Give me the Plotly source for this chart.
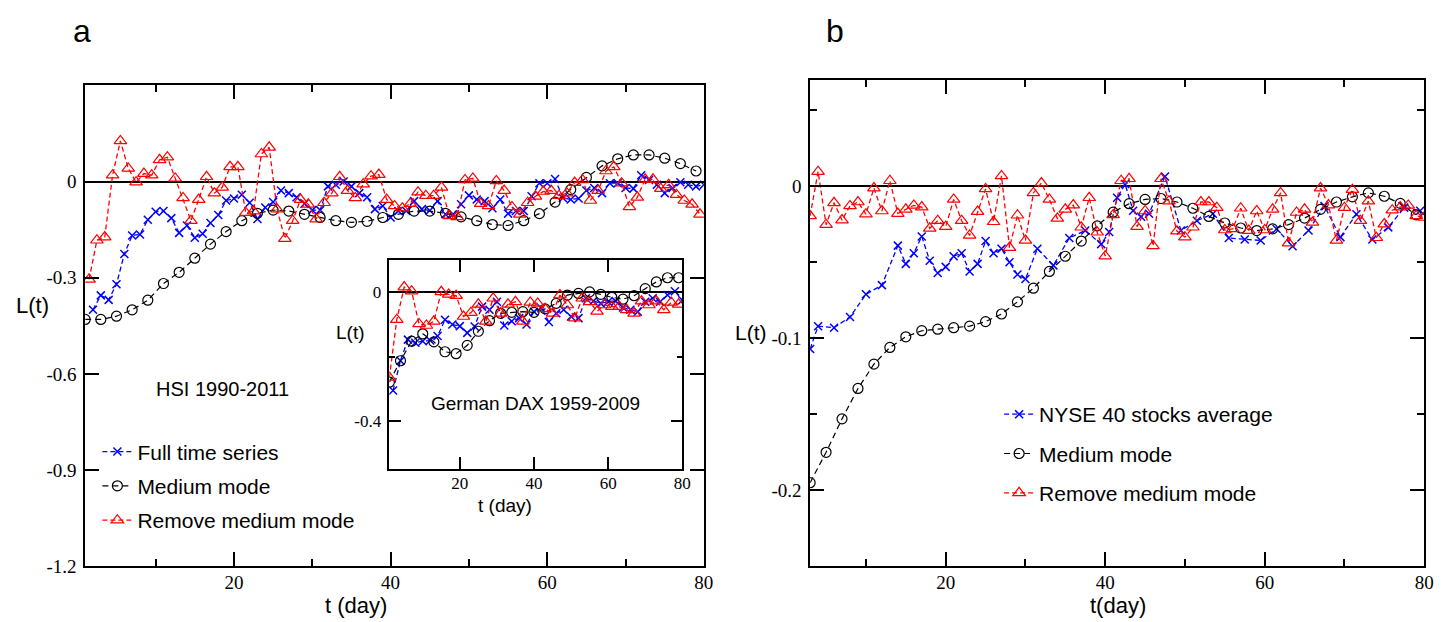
import plotly.graph_objects as go

W, H = 1450, 622

# ---------------- DATA ----------------
# Panel a: HSI 1990-2011
a_full_t = list(range(2, 81))
a_full_v = [-0.40, -0.355, -0.369, -0.32, -0.226, -0.168, -0.165, -0.119, -0.094,
            -0.092, -0.114, -0.16, -0.137, -0.175, -0.163, -0.129, -0.104, -0.059,
            -0.053, -0.041, -0.066, -0.117, -0.081, -0.064, -0.028, -0.036, -0.049,
            -0.069, -0.089, -0.089, -0.015, -0.01, 0.0, -0.015, -0.036, -0.049,
            -0.086, -0.076, -0.112, -0.092, -0.092, -0.061, -0.086, -0.09, -0.061,
            -0.102, -0.102, -0.071, -0.043, -0.056, -0.061, -0.083, -0.056, -0.1,
            -0.092, -0.092, -0.046, -0.005, -0.005, 0.008, -0.051, -0.056, -0.053,
            -0.028, -0.02, -0.036, -0.005, -0.005, -0.02, -0.022, 0.02, 0.005,
            -0.01, -0.036, -0.02, -0.002, -0.01, -0.015, -0.01]

a_med_t = list(range(1, 80, 2))
a_med_v = [-0.43, -0.43, -0.42, -0.40, -0.37, -0.318, -0.283, -0.239, -0.195, -0.156,
           -0.122, -0.099, -0.089, -0.092, -0.102, -0.112, -0.122, -0.127, -0.124, -0.112,
           -0.102, -0.092, -0.092, -0.099, -0.11, -0.122, -0.134, -0.137, -0.122, -0.1,
           -0.064, -0.025, 0.013, 0.049, 0.071, 0.083, 0.083, 0.073, 0.056, 0.033]

a_rem_t = [k + 0.5 for k in range(1, 80)]
a_rem_v = [-0.305, -0.183, -0.173, 0.02, 0.127, 0.041, -0.002, 0.025, 0.02, 0.068,
           0.076, 0.01, -0.051, -0.122, -0.056, 0.015, -0.036, -0.018, 0.046, 0.046,
           -0.097, -0.092, 0.086, 0.107, -0.086, -0.178, -0.122, -0.056, -0.071, -0.117,
           -0.066, -0.036, 0.015, -0.028, -0.051, -0.008, 0.017, 0.022, -0.056, -0.076,
           -0.083, -0.069, -0.033, -0.044, -0.044, -0.018, -0.107, -0.11, 0.005, 0.01,
           -0.069, -0.076, 0.002, -0.028, -0.079, -0.102, -0.066, -0.046, -0.031, -0.028,
           -0.044, -0.036, -0.003, 0.005, -0.059, -0.028, 0.033, 0.046, -0.005, -0.079,
           -0.049, 0.007, 0.007, -0.022, -0.01, -0.041, -0.059, -0.071, -0.102]

# Inset: German DAX 1959-2009
dax_full_t = list(range(2, 81, 2))
dax_full_v = [-0.306, -0.213, -0.147, -0.157, -0.152, -0.15, -0.136, -0.085, -0.1, -0.105,
              -0.126, -0.106, -0.044, -0.054, -0.029, -0.103, -0.09, -0.08, -0.1, -0.06,
              -0.049, -0.092, -0.065, -0.054, -0.075, -0.08, -0.018, -0.027, -0.034, -0.029,
              -0.027, -0.047, -0.054, -0.06, -0.029, -0.018, -0.029, -0.008, 0.004, -0.024]

dax_med_t = list(range(1, 80, 3))
dax_med_v = [-0.28, -0.213, -0.152, -0.129, -0.154, -0.185, -0.191, -0.165, -0.121, -0.088,
             -0.065, -0.062, -0.06, -0.062, -0.051, -0.034, -0.008, -0.003, 0.002, -0.006,
             -0.015, -0.021, -0.01, 0.012, 0.033, 0.046, 0.046]

dax_rem_t = list(range(1, 80, 2))
dax_rem_v = [-0.265, -0.085, 0.017, 0.004, -0.098, -0.103, -0.09, 0.002, -0.006, -0.01,
             -0.075, -0.063, -0.037, -0.09, -0.018, -0.065, -0.037, -0.029, -0.09, -0.031,
             -0.034, -0.051, -0.065, -0.008, -0.039, -0.08, -0.018, -0.029, -0.059, -0.039,
             -0.044, -0.044, -0.054, -0.065, -0.027, -0.039, -0.027, -0.054, -0.031, -0.037]

# Panel b: NYSE 40 stocks
b_full_t = [3, 4, 6, 8, 10, 12, 14, 15, 16, 17, 18, 19, 20, 21, 22, 23, 24, 25, 26, 27,
            28, 29, 30, 31.5, 33.5, 35.5, 37.5, 39.5, 40.5, 41.5, 42.5, 43.5, 44.5, 45.5,
            47.5, 49.5, 51.5, 53.5, 55.5, 57.5, 59.5, 61.5, 63.5, 65.5, 67.5, 69.5, 71.5,
            73.5, 75.5, 77.5, 79.5]
b_full_v = [-0.107, -0.092, -0.093, -0.086, -0.071, -0.065, -0.039, -0.051, -0.044, -0.033,
            -0.049, -0.057, -0.053, -0.046, -0.044, -0.056, -0.051, -0.036, -0.044, -0.041,
            -0.05, -0.058, -0.061, -0.041, -0.052, -0.034, -0.029, -0.038, -0.03, -0.0075,
            0.0015, -0.016, -0.02, -0.018, 0.0065, -0.029, -0.0226, -0.018, -0.034, -0.035,
            -0.0356, -0.028, -0.0394, -0.029, -0.013, -0.0334, -0.0183, -0.035, -0.027,
            -0.014, -0.016]

b_med_t = list(range(3, 80, 2))
b_med_v = [-0.195, -0.175, -0.153, -0.133, -0.117, -0.106, -0.099, -0.095, -0.094, -0.093,
           -0.092, -0.089, -0.084, -0.076, -0.067, -0.056, -0.046, -0.036, -0.026, -0.017,
           -0.0114, -0.0086, -0.008, -0.0103, -0.0144, -0.0198, -0.0241, -0.0274, -0.0291,
           -0.028, -0.0252, -0.0209, -0.0151, -0.0103, -0.0069, -0.0043, -0.0065, -0.0112,
           -0.0187]

b_rem_t = list(range(3, 81))
b_rem_v = [-0.0194, 0.0097, -0.0252, -0.0108, -0.0222, -0.0129, -0.0103, -0.0183, -0.0011,
           -0.0162, 0.0037, -0.0179, -0.0151, -0.0125, -0.0136, -0.0276, -0.0226, -0.0265,
           -0.0086, -0.0226, -0.0323, -0.0166, -0.0017, -0.0233, 0.0069, -0.0403, -0.019,
           -0.0356, -0.0043, 0.0022, -0.0086, -0.0211, -0.0151, -0.0123, -0.0269, -0.0075,
           -0.0302, -0.0459, -0.0188, 0.0037,
           0.005, -0.0265, -0.0162, -0.0392, 0.005, -0.0097, -0.0295, -0.0334, -0.0269,
           -0.0103, -0.0103, -0.014, -0.0287, -0.028, -0.0144, -0.0291, -0.0162, -0.0287,
           -0.0151, -0.0043, -0.0373, -0.0172, -0.0151, -0.0237, -0.0011, -0.0123, -0.0356,
           -0.014, -0.0022, -0.0226, -0.0097, -0.0338, -0.0248, -0.0157, -0.0136, -0.0125,
           -0.0194, -0.0205]

# tick labels
x_tick_vals = [20, 40, 60, 80]
x_tick_text = ["20", "40", "60", "80"]
x_minor_vals = [10, 30, 50, 70]
a_ytick_vals = [0, -0.3, -0.6, -0.9, -1.2]
a_ytick_text = ["0", "-0.3", "-0.6", "-0.9", "-1.2"]
dax_ytick_vals = [0, -0.4]
dax_ytick_text = ["0", "-0.4"]
dax_yminor_vals = [-0.2]
b_ytick_vals = [0, -0.1, -0.2]
b_ytick_text = ["0", "-0.1", "-0.2"]
b_yminor_vals = [0.05, -0.05, -0.15, -0.25]

# ---------------- STYLE ----------------
BLUE, RED, BLACK = "#0000ff", "#ff0000", "#000000"
SANS = "Liberation Sans"
SERIF = "Liberation Serif"


def px(x):
    return x / W


def py(y):
    return 1 - y / H


STY = {
    "full": dict(line=dict(color=BLUE, width=1.3, dash="5px,3px"),
                 marker=dict(symbol="x-thin", size=8, color=BLUE,
                             line=dict(color=BLUE, width=1.5))),
    "med": dict(line=dict(color=BLACK, width=1.2, dash="6px,4px"),
                marker=dict(symbol="circle-open", size=10, color=BLACK,
                            line=dict(color=BLACK, width=1.2))),
    "rem": dict(line=dict(color=RED, width=1.3, dash="5px,3px"),
                marker=dict(symbol="triangle-up-open", size=11, color=RED,
                            line=dict(color=RED, width=1.2))),
}

fig = go.Figure()


def add(t, v, kind, xa, ya, name=None, legend=None):
    s = STY[kind]
    fig.add_trace(go.Scatter(
        x=t, y=v, mode="lines+markers", xaxis=xa, yaxis=ya,
        line=s["line"], marker=s["marker"], cliponaxis=True,
        name=name if name else kind, showlegend=legend is not None,
        legend=legend if legend else "legend",
        legendgroup=(legend or "") + kind,
    ))


add(a_full_t, a_full_v, "full", "x", "y", "Full time series", "legend")
add(a_med_t, a_med_v, "med", "x", "y", "Medium mode", "legend")
add(a_rem_t, a_rem_v, "rem", "x", "y", "Remove medium mode", "legend")

add(dax_full_t, dax_full_v, "full", "x2", "y2")
add(dax_med_t, dax_med_v, "med", "x2", "y2")
add(dax_rem_t, dax_rem_v, "rem", "x2", "y2")

add(b_full_t, b_full_v, "full", "x3", "y3", "NYSE 40 stocks average", "legend2")
add(b_med_t, b_med_v, "med", "x3", "y3", "Medium mode", "legend2")
add(b_rem_t, b_rem_v, "rem", "x3", "y3", "Remove medium mode", "legend2")


def xax(domain, rng, anchor, ticklen=14, minor=True, fs=19):
    d = dict(domain=domain, range=rng, anchor=anchor, showline=True, linecolor=BLACK,
             linewidth=1.5, mirror="ticks", ticks="inside", ticklen=ticklen, tickwidth=1.5,
             tickcolor=BLACK, tickmode="array", tickvals=x_tick_vals, ticktext=x_tick_text,
             tickfont=dict(family=SERIF, size=fs, color=BLACK), showgrid=False,
             ticklabelstandoff=-2,
             zeroline=False, fixedrange=True)
    if minor:
        d["minor"] = dict(ticks="inside", ticklen=ticklen // 2, tickwidth=1.5,
                          tickcolor=BLACK, tickvals=x_minor_vals, showgrid=False)
    return d


def yax(domain, rng, anchor, vals, text, minor_vals=None, ticklen=14, fs=19):
    d = dict(domain=domain, range=rng, anchor=anchor, showline=True, linecolor=BLACK,
             linewidth=1.5, mirror="ticks", ticks="inside", ticklen=ticklen, tickwidth=1.5,
             tickcolor=BLACK, tickmode="array", tickvals=vals, ticktext=text,
             tickfont=dict(family=SERIF, size=fs, color=BLACK), showgrid=False,
             ticklabelstandoff=3,
             zeroline=True, zerolinecolor=BLACK, zerolinewidth=1.5, fixedrange=True)
    if minor_vals:
        d["minor"] = dict(ticks="inside", ticklen=ticklen // 2, tickwidth=1.5,
                          tickcolor=BLACK, tickvals=minor_vals, showgrid=False)
    return d


A_X = [px(77.7), px(700.7)]
A_Y = [py(568.3), py(78.8)]
I_X = [px(384), px(679)]
I_Y = [py(469), py(257)]
B_X = [px(807.7), px(1426)]
B_Y = [py(568.3), py(73.3)]


def ann(x, y, text, size=20, family=SANS, xanchor="center"):
    return dict(x=px(x), y=py(y), xref="paper", yref="paper", text=text, showarrow=False,
                xanchor=xanchor, yanchor="middle", borderpad=0,
                font=dict(family=family, size=size, color=BLACK))


fig.update_layout(
    width=W, height=H, margin=dict(l=0, r=0, t=0, b=0),
    paper_bgcolor="white", plot_bgcolor="white",
    xaxis=xax(A_X, [1, 80], "y"),
    yaxis=yax(A_Y, [-1.2, 0.3], "x", a_ytick_vals, a_ytick_text),
    xaxis2=xax(I_X, [1, 80], "y2", ticklen=12, minor=False, fs=17),
    yaxis2=yax(I_Y, [-0.55, 0.1], "x2", dax_ytick_vals, dax_ytick_text,
               dax_yminor_vals, ticklen=12, fs=17),
    xaxis3=xax(B_X, [3, 80], "y3"),
    yaxis3=yax(B_Y, [-0.25, 0.07], "x3", b_ytick_vals, b_ytick_text, b_yminor_vals),
    legend=dict(x=px(90), y=py(431), xanchor="left", yanchor="top",
                font=dict(family=SANS, size=21, color=BLACK), bgcolor="rgba(0,0,0,0)",
                traceorder="grouped", tracegroupgap=4),
    legend2=dict(x=px(998), y=py(393), xanchor="left", yanchor="top",
                 font=dict(family=SANS, size=21, color=BLACK), bgcolor="rgba(0,0,0,0)",
                 traceorder="grouped", tracegroupgap=9),
    annotations=[
        ann(75, 23, "a", size=32),
        ann(833, 23, "b", size=32),
        ann(25, 303, "L(t)", size=22),
        ann(748, 330, "L(t)", size=21),
        ann(350, 608, "t (day)", size=22),
        ann(1118, 608, "t(day)", size=22),
        ann(148, 388, "HSI 1990-2011", xanchor="left", size=20),
        ann(531, 403, "German DAX 1959-2009", size=19),
        ann(345, 330, "L(t)", size=19),
        ann(500, 506, "t (day)", size=19),
    ],
)

fig.write_html("out.html")
